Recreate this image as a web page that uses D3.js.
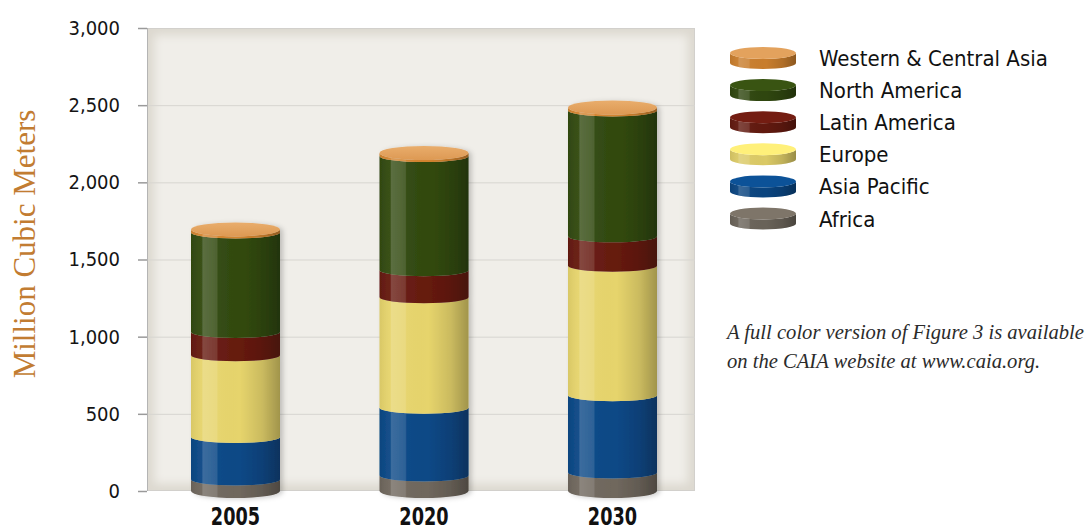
<!DOCTYPE html>
<html>
<head>
<meta charset="utf-8">
<script src="https://cdn.jsdelivr.net/npm/d3@7"></script>
<style>
  body { margin: 0; background: #fff; }
  svg { display: block; }
</style>
</head>
<body>
<svg id="chart" width="1090" height="530"></svg>
<script>
// Wood consumption by region, million cubic meters
const years = ["2005", "2020", "2030"];
const regions = ["Africa", "Asia Pacific", "Europe", "Latin America", "North America", "Western & Central Asia"];
const africa = [75, 100, 120];
const asiaPacific = [275, 440, 500];
const europe = [530, 715, 840];
const latinAmerica = [150, 175, 190];
const northAmerica = [645, 740, 815];
const westernCentralAsia = [20, 20, 20];
const yTicks = [0, 500, 1000, 1500, 2000, 2500, 3000];
const regionColors = ["#6f675d", "#0b4886", "#e6d46c", "#661a10", "#324a10", "#d3842f"];
const capColor = "#e3a25d";
const noteLines = ["A full color version of Figure 3 is available", "on the CAIA website at www.caia.org."];

const series = [africa, asiaPacific, europe, latinAmerica, northAmerica, westernCentralAsia];
const table = years.map((yr, i) => {
  const row = { year: yr };
  regions.forEach((r, k) => { row[r] = series[k][i]; });
  return row;
});

const condensed = '"Liberation Sans Narrow","Arial Narrow","DejaVu Sans Condensed",sans-serif';
const serif = '"Liberation Serif","Times New Roman","DejaVu Serif",serif';

const svg = d3.select("#chart");
const plot = { left: 147, right: 695, top: 28, bottom: 491 };

const y = d3.scaleLinear().domain([0, 3000]).range([plot.bottom, plot.top]);
const x = d3.scalePoint().domain(years).range([235.5, 612.5]);
const color = d3.scaleOrdinal().domain(regions).range(regionColors);

const defs = svg.append("defs");

// horizontal shading that turns a flat band into a cylinder face
const shade = defs.append("linearGradient").attr("id", "shade")
  .attr("x1", 0).attr("x2", 1).attr("y1", 0).attr("y2", 0);
[
  [0, "#000", 0.06], [0.12, "#fff", 0.04], [0.135, "#fff", 0.2], [0.29, "#fff", 0.14],
  [0.305, "#fff", 0.02], [0.55, "#000", 0.0], [0.8, "#000", 0.12], [1, "#000", 0.3]
].forEach(([o, c, a]) => shade.append("stop").attr("offset", o).attr("stop-color", c).attr("stop-opacity", a));

const capGrad = defs.append("linearGradient").attr("id", "capGrad")
  .attr("x1", 0).attr("x2", 0).attr("y1", 0).attr("y2", 1);
capGrad.append("stop").attr("offset", 0).attr("stop-color", "#e9ad6c");
capGrad.append("stop").attr("offset", 1).attr("stop-color", "#dd9953");

const shadow = defs.append("filter").attr("id", "cylShadow")
  .attr("x", "-20%").attr("y", "-5%").attr("width", "150%").attr("height", "115%");
shadow.append("feDropShadow").attr("dx", 3).attr("dy", 1).attr("stdDeviation", 2.5)
  .attr("flood-color", "#000").attr("flood-opacity", 0.2);

const blur = defs.append("filter").attr("id", "innerBlur")
  .attr("x", "-10%").attr("y", "-10%").attr("width", "120%").attr("height", "120%");
blur.append("feGaussianBlur").attr("stdDeviation", 5);

defs.append("clipPath").attr("id", "plotClip").append("rect")
  .attr("x", plot.left).attr("y", plot.top)
  .attr("width", plot.right - plot.left).attr("height", plot.bottom - plot.top);

// plot panel
svg.append("rect")
  .attr("x", plot.left).attr("y", plot.top)
  .attr("width", plot.right - plot.left).attr("height", plot.bottom - plot.top)
  .attr("fill", "#f0eee9");
svg.append("g").attr("clip-path", "url(#plotClip)").append("rect")
  .attr("x", plot.left).attr("y", plot.top)
  .attr("width", plot.right - plot.left).attr("height", plot.bottom - plot.top)
  .attr("fill", "none").attr("stroke", "#dcd8cf").attr("stroke-width", 14)
  .attr("filter", "url(#innerBlur)");
svg.append("rect")
  .attr("x", plot.left + 0.5).attr("y", plot.top + 0.5)
  .attr("width", plot.right - plot.left - 1).attr("height", plot.bottom - plot.top - 1)
  .attr("fill", "none").attr("stroke", "#d2d0cc");

// gridlines
svg.append("g")
  .attr("transform", `translate(${plot.left},0)`)
  .call(d3.axisRight(y).tickValues(yTicks.filter(v => v > 0 && v < 3000)).tickSize(plot.right - plot.left).tickFormat(""))
  .call(g => g.select(".domain").remove())
  .call(g => g.selectAll("line").attr("stroke", "#d7d5d0"));

// y axis
svg.append("g")
  .attr("transform", `translate(${plot.left},0)`)
  .call(d3.axisLeft(y).tickValues(yTicks).tickSize(9).tickPadding(18).tickFormat(d3.format(",")))
  .call(g => g.select(".domain").attr("stroke", "#b4b4b4").attr("d", `M0.5,${plot.top}V${plot.bottom}`))
  .call(g => g.selectAll(".tick line").attr("stroke", "#9a9a9a").attr("stroke-width", 1.5))
  .call(g => g.selectAll(".tick text").attr("fill", "#141414")
    .style("font-family", condensed).style("font-size", "20px"));

svg.append("text")
  .attr("transform", `translate(35,244) rotate(-90)`)
  .attr("text-anchor", "middle")
  .attr("fill", "#c27c32")
  .style("font-family", serif).style("font-size", "31px")
  .text("Million Cubic Meters");

// cylinder geometry
const rx = 44.5, ry = 6, ryEnd = 7;
function band(cx, yb, yt, rxx, ryB, ryT) {
  const x0 = cx - rxx, x1 = cx + rxx;
  return `M${x0},${yt}L${x0},${yb}A${rxx},${ryB} 0 0 0 ${x1},${yb}L${x1},${yt}A${rxx},${ryT} 0 0 1 ${x0},${yt}Z`;
}

const stacked = d3.stack().keys(regions)(table);
const last = regions.length - 1;

const cyl = svg.append("g").selectAll("g.cyl")
  .data(years)
  .join("g").attr("class", "cyl").attr("filter", "url(#cylShadow)");

cyl.each(function (yr, i) {
  const g = d3.select(this);
  const cx = x(yr);
  stacked.forEach((layer, k) => {
    const [v0, v1] = layer[i];
    const d = band(cx, y(v0), y(v1), rx, k === 0 ? ryEnd : ry, k === last ? ryEnd : ry);
    g.append("path").attr("d", d).attr("fill", color(layer.key));
    g.append("path").attr("d", d).attr("fill", "url(#shade)");
  });
  const top = stacked[last][i][1];
  g.append("ellipse")
    .attr("cx", cx).attr("cy", y(top))
    .attr("rx", rx).attr("ry", ryEnd)
    .attr("fill", "url(#capGrad)");
});

// year labels (condensed bold)
svg.append("g").selectAll("text")
  .data(years)
  .join("text")
  .attr("transform", d => `translate(${x(d)},525) scale(0.82,1)`)
  .attr("text-anchor", "middle")
  .attr("fill", "#111")
  .style("font-family", condensed).style("font-size", "24px").style("font-weight", "bold")
  .text(d => d);

// legend: small discs, top layer first
const legendOrder = regions.slice().reverse();
const legend = svg.append("g").selectAll("g")
  .data(legendOrder)
  .join("g")
  .attr("transform", (d, i) => `translate(0,${58 + i * 32.1})`);

legend.each(function (r) {
  const g = d3.select(this);
  const d = band(763, 5, -5, 33, 6, 6);
  g.append("path").attr("d", d).attr("fill", d3.color(color(r)).darker(0.15));
  g.append("path").attr("d", d).attr("fill", "url(#shade)");
  g.append("ellipse").attr("cx", 763).attr("cy", -5).attr("rx", 33).attr("ry", 6)
    .attr("fill", r === "Western & Central Asia" ? capColor : d3.color(color(r)).brighter(0.35));
});
legend.append("text")
  .attr("x", 819).attr("y", 8)
  .attr("fill", "#111")
  .style("font-family", condensed).style("font-size", "22px")
  .text(d => d);

// note
svg.append("g").selectAll("text")
  .data(noteLines)
  .join("text")
  .attr("x", 727).attr("y", (d, i) => 339 + i * 29)
  .attr("fill", "#2b2b2b")
  .style("font-family", serif).style("font-style", "italic").style("font-size", "20.6px")
  .text(d => d);
</script>
</body>
</html>
